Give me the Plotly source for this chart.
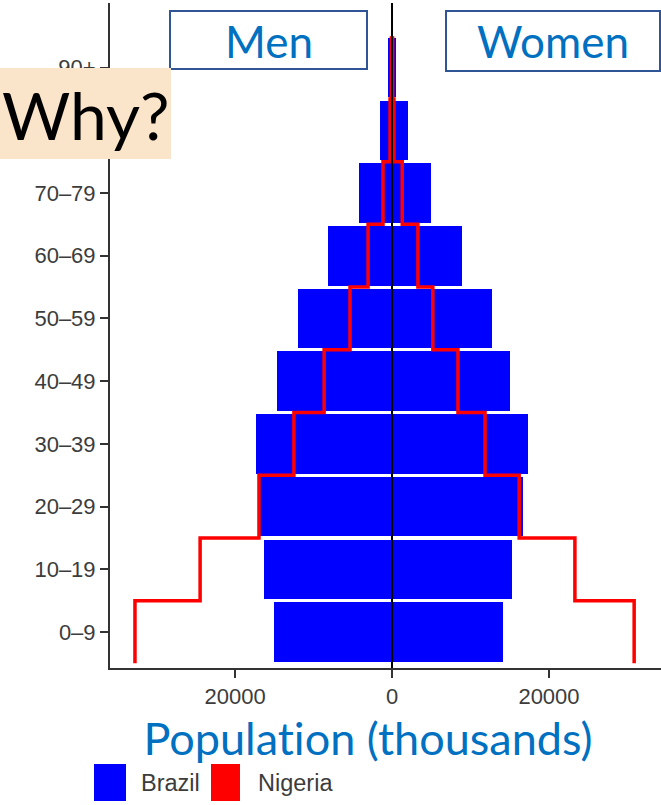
import plotly.graph_objects as go

# ---------------- data ----------------
age_groups = ['0–9', '10–19', '20–29', '30–39', '40–49', '50–59', '60–69', '70–79', '80–89', '90+']
brazil_men = [15000, 16300, 16950, 17300, 14650, 12000, 8150, 4200, 1500, 500]
brazil_women = [14150, 15300, 16700, 17300, 15000, 12750, 8900, 5000, 2000, 500]
nigeria_men = [32750, 24450, 16950, 12500, 8650, 5350, 3050, 1150, 250, 80]
nigeria_women = [30850, 23300, 16200, 11850, 8400, 5200, 3300, 1300, 250, 80]
x_tick_vals = [-20000, 0, 20000]
x_tick_text = ['20000', '0', '20000']

# ---------------- layout helpers (pixel -> paper) ----------------
W, H = 661, 805
L, R, T, B = 110, 661, 3, 668


def px(x):
    return (x - L) / (R - L)


def py(y):
    return (B - y) / (B - T)


idx = list(range(len(age_groups)))
step_y = [i - 0.5 for i in idx] + [idx[-1] + 0.5]

fig = go.Figure()
fig.add_trace(go.Bar(y=idx, x=[-v for v in brazil_men], orientation='h', width=0.95,
                     marker=dict(color='#0000ff', line=dict(width=0)), name='Brazil', showlegend=False))
fig.add_trace(go.Bar(y=idx, x=brazil_women, orientation='h', width=0.95,
                     marker=dict(color='#0000ff', line=dict(width=0)), name='Brazil', showlegend=False))
fig.add_trace(go.Scatter(y=step_y, x=[-v for v in nigeria_men] + [-nigeria_men[-1]], mode='lines',
                         line=dict(color='#ff0000', width=3.5, shape='vh'), name='Nigeria', showlegend=False))
fig.add_trace(go.Scatter(y=step_y, x=nigeria_women + [nigeria_women[-1]], mode='lines',
                         line=dict(color='#ff0000', width=3.5, shape='vh'), name='Nigeria', showlegend=False))

tickfont = dict(family='Liberation Sans, Arial, sans-serif', size=22, color='#3c3c3c')
legfont = dict(family='Liberation Sans, Arial, sans-serif', size=23.5, color='#3c3c3c')
label_font = 'Lato, Calibri, sans-serif'

shapes = [
    # zero line
    dict(type='line', xref='x', yref='paper', x0=0, x1=0, y0=0, y1=1,
         line=dict(color='black', width=2), layer='above'),
    # Men / Women boxes
    dict(type='rect', xref='paper', yref='paper', x0=px(170), x1=px(367), y0=py(69), y1=py(11),
         line=dict(color='#2f5597', width=2), fillcolor='white', layer='above'),
    dict(type='rect', xref='paper', yref='paper', x0=px(446), x1=px(660), y0=py(71), y1=py(11),
         line=dict(color='#2f5597', width=2), fillcolor='white', layer='above'),
    # Why? box
    dict(type='rect', xref='paper', yref='paper', x0=px(0), x1=px(171), y0=py(159), y1=py(68),
         line=dict(width=0), fillcolor='#fbe5ca', layer='above'),
    # legend keys
    dict(type='rect', xref='paper', yref='paper', x0=px(94), x1=px(126), y0=py(801), y1=py(764),
         line=dict(width=0), fillcolor='#0000ff'),
    dict(type='rect', xref='paper', yref='paper', x0=px(211), x1=px(240), y0=py(801), y1=py(764),
         line=dict(width=0), fillcolor='#ff0000'),
]

annotations = [
    dict(text='Men', x=px(269), y=py(41), xref='paper', yref='paper', showarrow=False,
         xanchor='center', yanchor='middle', font=dict(family=label_font, size=44, color='#0070c0')),
    dict(text='Women', x=px(553), y=py(41), xref='paper', yref='paper', showarrow=False,
         xanchor='center', yanchor='middle', font=dict(family=label_font, size=44, color='#0070c0')),
    dict(text='Why?', x=px(86), y=py(115), xref='paper', yref='paper', showarrow=False,
         xanchor='center', yanchor='middle', font=dict(family=label_font, size=66, color='black')),
    dict(text='Population (thousands)', x=px(368), y=py(738), xref='paper', yref='paper', showarrow=False,
         xanchor='center', yanchor='middle', font=dict(family=label_font, size=45, color='#0070c0')),
    dict(text='Brazil', x=px(139), y=py(783), xref='paper', yref='paper', showarrow=False,
         xanchor='left', yanchor='middle', font=legfont),
    dict(text='Nigeria', x=px(256), y=py(783), xref='paper', yref='paper', showarrow=False,
         xanchor='left', yanchor='middle', font=legfont),
]

fig.update_layout(
    width=W, height=H,
    margin=dict(l=L, r=W - R, t=T, b=H - B, autoexpand=False),
    barmode='relative', bargap=0,
    plot_bgcolor='white', paper_bgcolor='white',
    shapes=shapes, annotations=annotations,
    xaxis=dict(range=[-35930, 34270], tickvals=x_tick_vals, ticktext=x_tick_text,
               showgrid=False, zeroline=False, showline=True, linecolor='#333', linewidth=2,
               ticks='outside', ticklen=8, tickwidth=2, tickcolor='#333', tickfont=tickfont),
    yaxis=dict(range=[-0.574, 10.03], tickvals=idx, ticktext=age_groups,
               showgrid=False, zeroline=False, showline=True, linecolor='#333', linewidth=2,
               ticks='outside', ticklen=8, tickwidth=2, tickcolor='#333', tickfont=tickfont),
)

post = ("document.body.style.margin='0px';document.body.style.padding='0px';"
        "var s=document.createElement('style');"
        "s.textContent='text{font-variant-ligatures:none !important;}';"
        "document.head.appendChild(s);")
fig.write_html('out.html', config={'displayModeBar': False}, post_script=post)
